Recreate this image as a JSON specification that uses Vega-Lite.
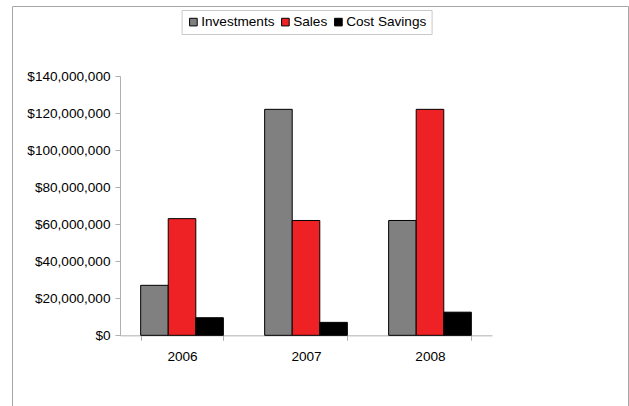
{
  "$schema": "https://vega.github.io/schema/vega-lite/v6.json",
  "width": 616,
  "height": 400.5,
  "autosize": {"type": "none"},
  "padding": {"left": 12, "top": 6, "right": 1, "bottom": 0},
  "background": "white",
  "config": {
    "view": {"stroke": "#a6a6a6", "strokeWidth": 1},
    "font": "Liberation Sans"
  },
  "data": {
    "values": [
      {"year": "2006", "series": "Investments", "value": 27000000},
      {"year": "2006", "series": "Sales", "value": 63000000},
      {"year": "2006", "series": "Cost Savings", "value": 9500000},
      {"year": "2007", "series": "Investments", "value": 122000000},
      {"year": "2007", "series": "Sales", "value": 62000000},
      {"year": "2007", "series": "Cost Savings", "value": 7000000},
      {"year": "2008", "series": "Investments", "value": 62000000},
      {"year": "2008", "series": "Sales", "value": 122000000},
      {"year": "2008", "series": "Cost Savings", "value": 12500000}
    ]
  },
  "mark": {"type": "bar", "stroke": "#000000", "strokeWidth": 1},
  "encoding": {
    "x": {
      "field": "year",
      "type": "nominal",
      "scale": {"range": [108, 480], "paddingInner": 0.333, "paddingOuter": 0.1667},
      "axis": {
        "title": null,
        "labelAngle": 0,
        "offset": -71.17,
        "tickBand": "extent",
        "tickSize": 5,
        "tickColor": "#b0b0b0",
        "domainColor": "#b0b0b0",
        "labelFontSize": 13.6,
        "labelColor": "#000000",
        "labelPadding": 9,
        "grid": false
      }
    },
    "xOffset": {
      "field": "series",
      "sort": ["Investments", "Sales", "Cost Savings"],
      "scale": {"paddingInner": 0, "paddingOuter": 0}
    },
    "y": {
      "field": "value",
      "type": "quantitative",
      "scale": {"domain": [0, 140000000], "range": [329.33, 70], "nice": false},
      "axis": {
        "title": null,
        "offset": -108,
        "values": [0, 20000000, 40000000, 60000000, 80000000, 100000000, 120000000, 140000000],
        "format": "$,.0f",
        "tickSize": 5,
        "tickColor": "#b0b0b0",
        "domainColor": "#b0b0b0",
        "labelFontSize": 13.6,
        "labelColor": "#000000",
        "labelPadding": 5,
        "grid": false
      }
    },
    "color": {
      "field": "series",
      "type": "nominal",
      "scale": {
        "domain": ["Investments", "Sales", "Cost Savings"],
        "range": ["#808080", "#EE2124", "#000000"]
      },
      "legend": {
        "title": null,
        "orient": "none",
        "legendX": 169.6,
        "legendY": 4,
        "direction": "horizontal",
        "symbolType": "square",
        "symbolSize": 58,
        "symbolStrokeColor": "#000000",
        "symbolStrokeWidth": 1,
        "labelFontSize": 13.6,
        "labelColor": "#000000",
        "labelOffset": 1,
        "columnPadding": 4,
        "padding": 5,
        "strokeColor": "#c8c8c8",
        "fillColor": "#ffffff"
      }
    }
  }
}
